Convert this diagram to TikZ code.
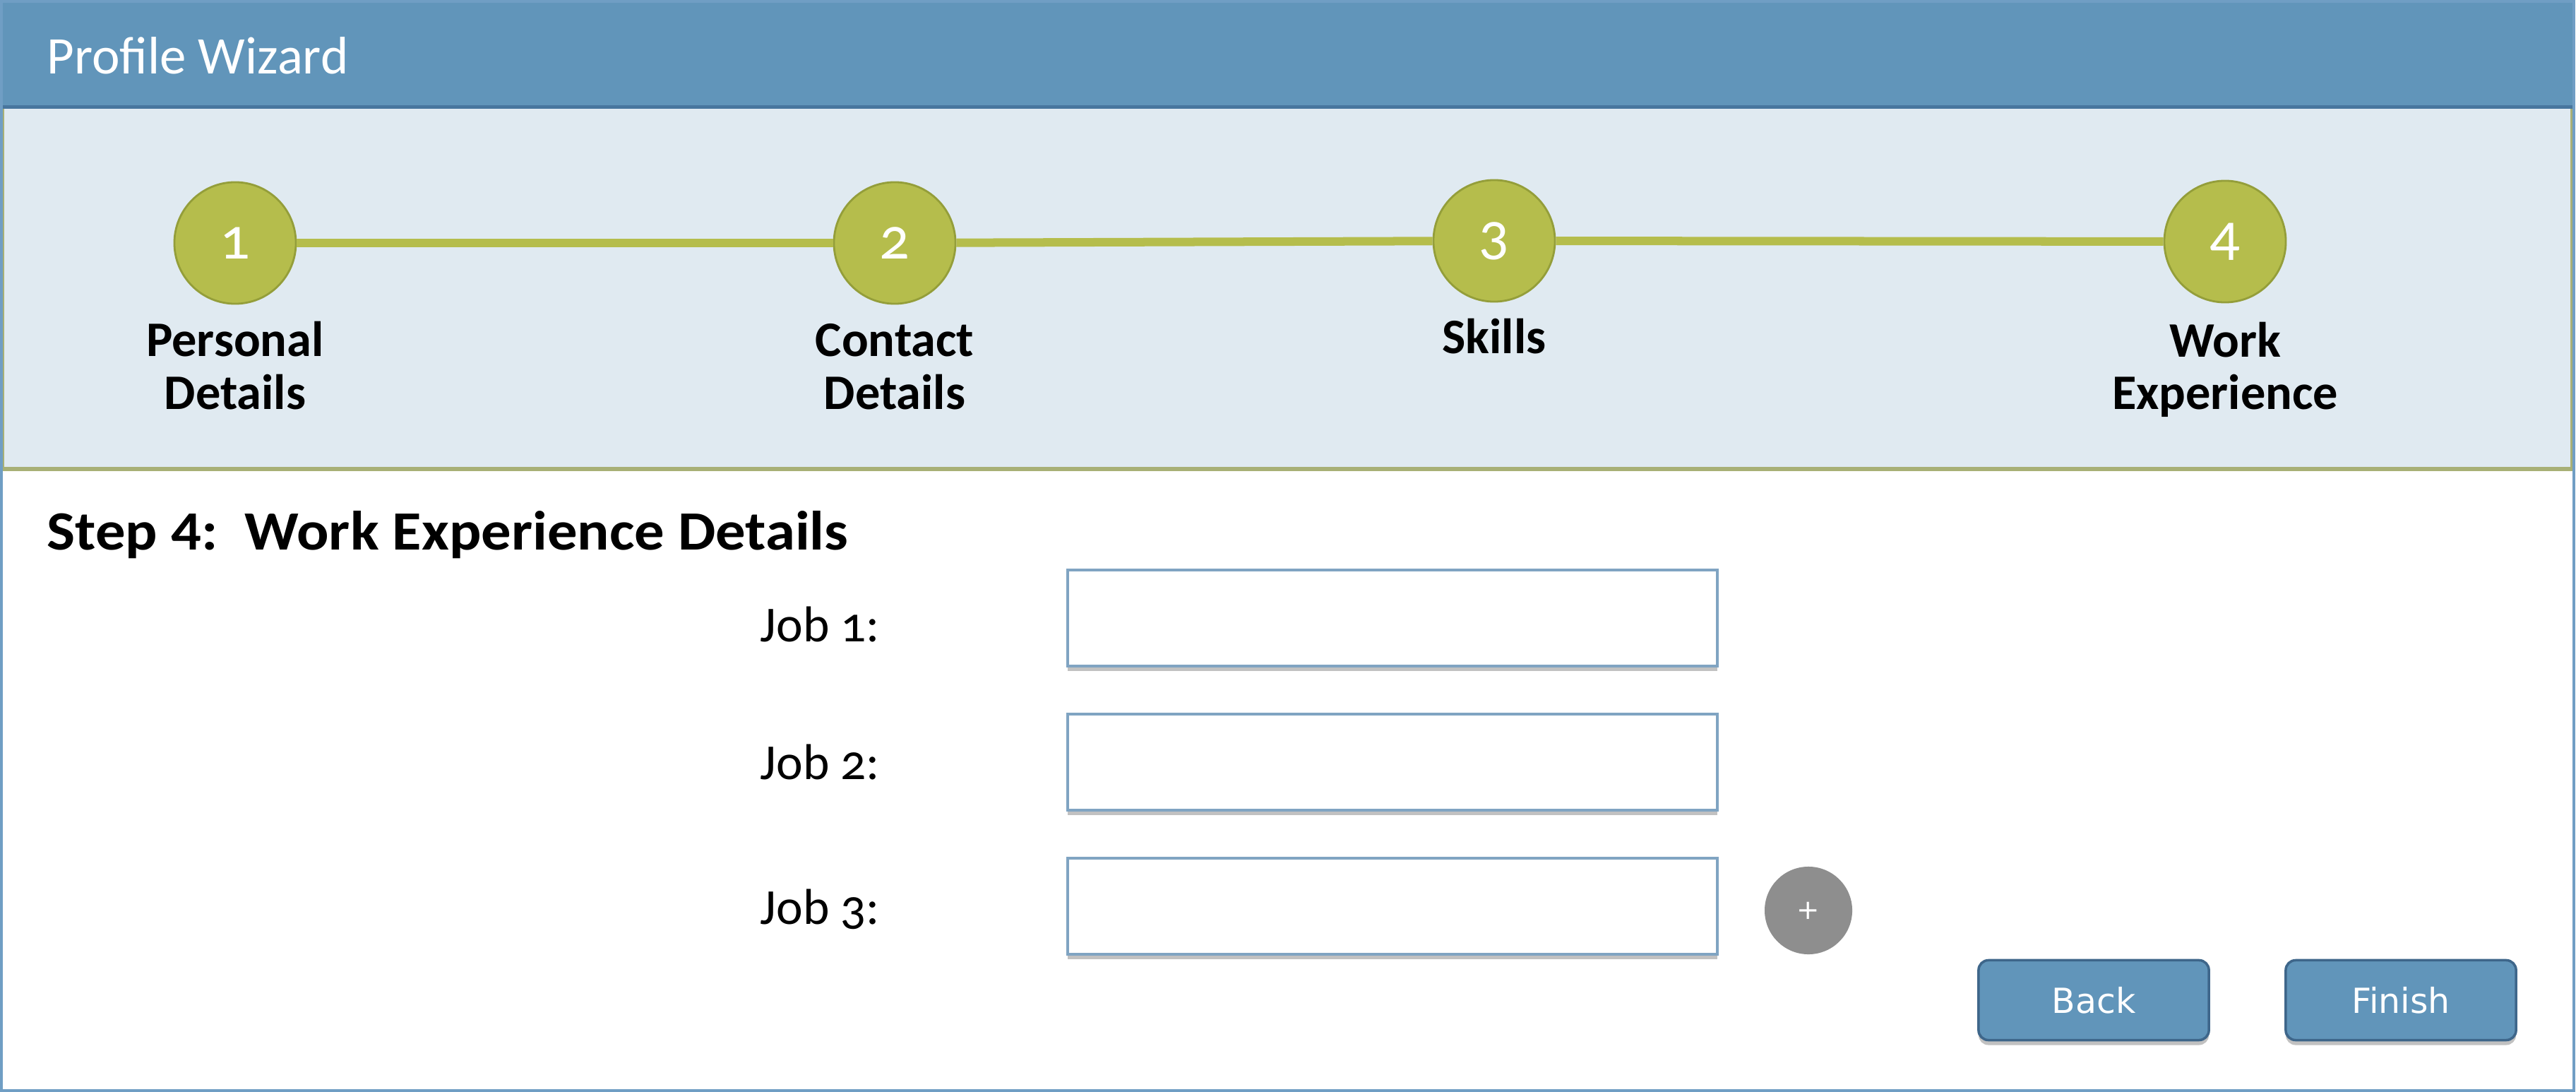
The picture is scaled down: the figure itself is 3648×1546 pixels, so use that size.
\documentclass[tikz,border=0pt]{standalone}
\usepackage{fontspec}
\setmainfont{Carlito}[Numbers=OldStyle]
\newfontfamily\btnfont{DejaVu Sans}
\newfontfamily\headfont{Carlito}[FakeStretch=1.08]
\usetikzlibrary{shadows}
\definecolor{hdrblue}{RGB}{97,149,186}
\definecolor{hdrdark}{RGB}{72,118,158}
\definecolor{bandfill}{RGB}{224,234,241}
\definecolor{bandedge}{RGB}{168,176,118}
\definecolor{olivefill}{RGB}{181,189,76}
\definecolor{oliveedge}{RGB}{148,158,58}
\definecolor{framecol}{RGB}{112,158,196}
\definecolor{fieldedge}{RGB}{128,164,194}
\definecolor{plusgray}{RGB}{142,142,142}
\definecolor{btnedge}{RGB}{62,102,138}
\tikzset{
  stepcirc/.style={circle, fill=olivefill, draw=oliveedge, line width=0.8pt, minimum size=1.72cm, inner sep=0pt, text=white, font=\fontsize{24}{24}\selectfont},
  stepline/.style={olivefill, line width=0.12cm},
  steplbl/.style={align=center, inner sep=0pt, font=\bfseries\fontsize{20}{21.3}\selectfont},
  joblbl/.style={inner sep=0pt, font=\fontsize{20.3}{22}\selectfont},
  fieldbox/.style={rectangle, fill=white, draw=fieldedge, line width=1.2pt, minimum width=9.2cm, minimum height=1.36cm, inner sep=0pt,
     drop shadow={shadow xshift=0cm, shadow yshift=-0.07cm, opacity=0.4, fill=black!60}},
  plusbtn/.style={circle, fill=plusgray, minimum size=1.24cm, inner sep=0pt, text=white, font=\btnfont\fontsize{11}{11}\selectfont},
  actbtn/.style={rectangle, rounded corners=0.14cm, fill=hdrblue, draw=btnedge, line width=1pt, minimum width=3.26cm, minimum height=1.13cm, inner sep=0pt, text=white, font=\btnfont\fontsize{13.9}{14}\selectfont,
     drop shadow={shadow xshift=0cm, shadow yshift=-0.07cm, opacity=0.4, fill=black!60}},
}
\begin{document}
\begin{tikzpicture}[x=0.01cm, y=-0.01cm]
\useasboundingbox (0,0) rectangle (3648,1546);
% page background
\fill[white] (0,0) rectangle (3648,1546);
% header bar
\fill[hdrblue] (2,2) rectangle (3644,152);
\draw[hdrdark, line width=0.05cm] (2,152) -- (3644,152);
\node[anchor=base west, inner sep=0pt, text=white, font=\fontsize{21.3}{22}\selectfont] (title) at (66,105) {Profile Wizard};
% progress band
\fill[bandfill] (2,154) rectangle (3644,664);
\draw[bandedge, line width=0.06cm] (3,154) -- (3,664) -- (3643,664) -- (3643,154);
% outer frame
\draw[framecol, line width=0.045cm] (2,2) rectangle (3645,1544);
% step circles
\node[stepcirc] (c1) at (333,344) {1};
\node[stepcirc] (c2) at (1267,344) {2};
\node[stepcirc] (c3) at (2116,341) {3};
\node[stepcirc] (c4) at (3151,342) {4};
\draw[stepline] (c1) -- (c2);
\draw[stepline] (c2) -- (c3);
\draw[stepline] (c3) -- (c4);
% step labels (base = baseline of the last line)
\node[steplbl, anchor=base] (l1) at (333,579) {Personal\\Details};
\node[steplbl, anchor=base] (l2) at (1267,579) {Contact\\Details};
\node[steplbl, anchor=base] (l3) at (2116,501) {Skills};
\node[steplbl, anchor=base] (l4) at (3151,580) {Work\\Experience};
% heading
\node[anchor=base west, inner sep=0pt, font=\headfont\bfseries\fontsize{22.3}{24}\selectfont] (heading) at (66,778) {Step 4:\ \ Work Experience Details};
% job rows
\node[joblbl, anchor=base west] (j1) at (1076,908) {Job 1:};
\node[joblbl, anchor=base west] (j2) at (1076,1103) {Job 2:};
\node[joblbl, anchor=base west] (j3) at (1076,1308) {Job 3:};
\node[fieldbox] (f1) at (1972,875) {};
\node[fieldbox] (f2) at (1972,1079) {};
\node[fieldbox] (f3) at (1972,1283) {};
\node[plusbtn] (plus) at (2561,1289) {+};
% buttons
\node[actbtn] (back) at (2965,1416) {Back};
\node[actbtn] (finish) at (3400,1416) {Finish};
\end{tikzpicture}
\end{document}
